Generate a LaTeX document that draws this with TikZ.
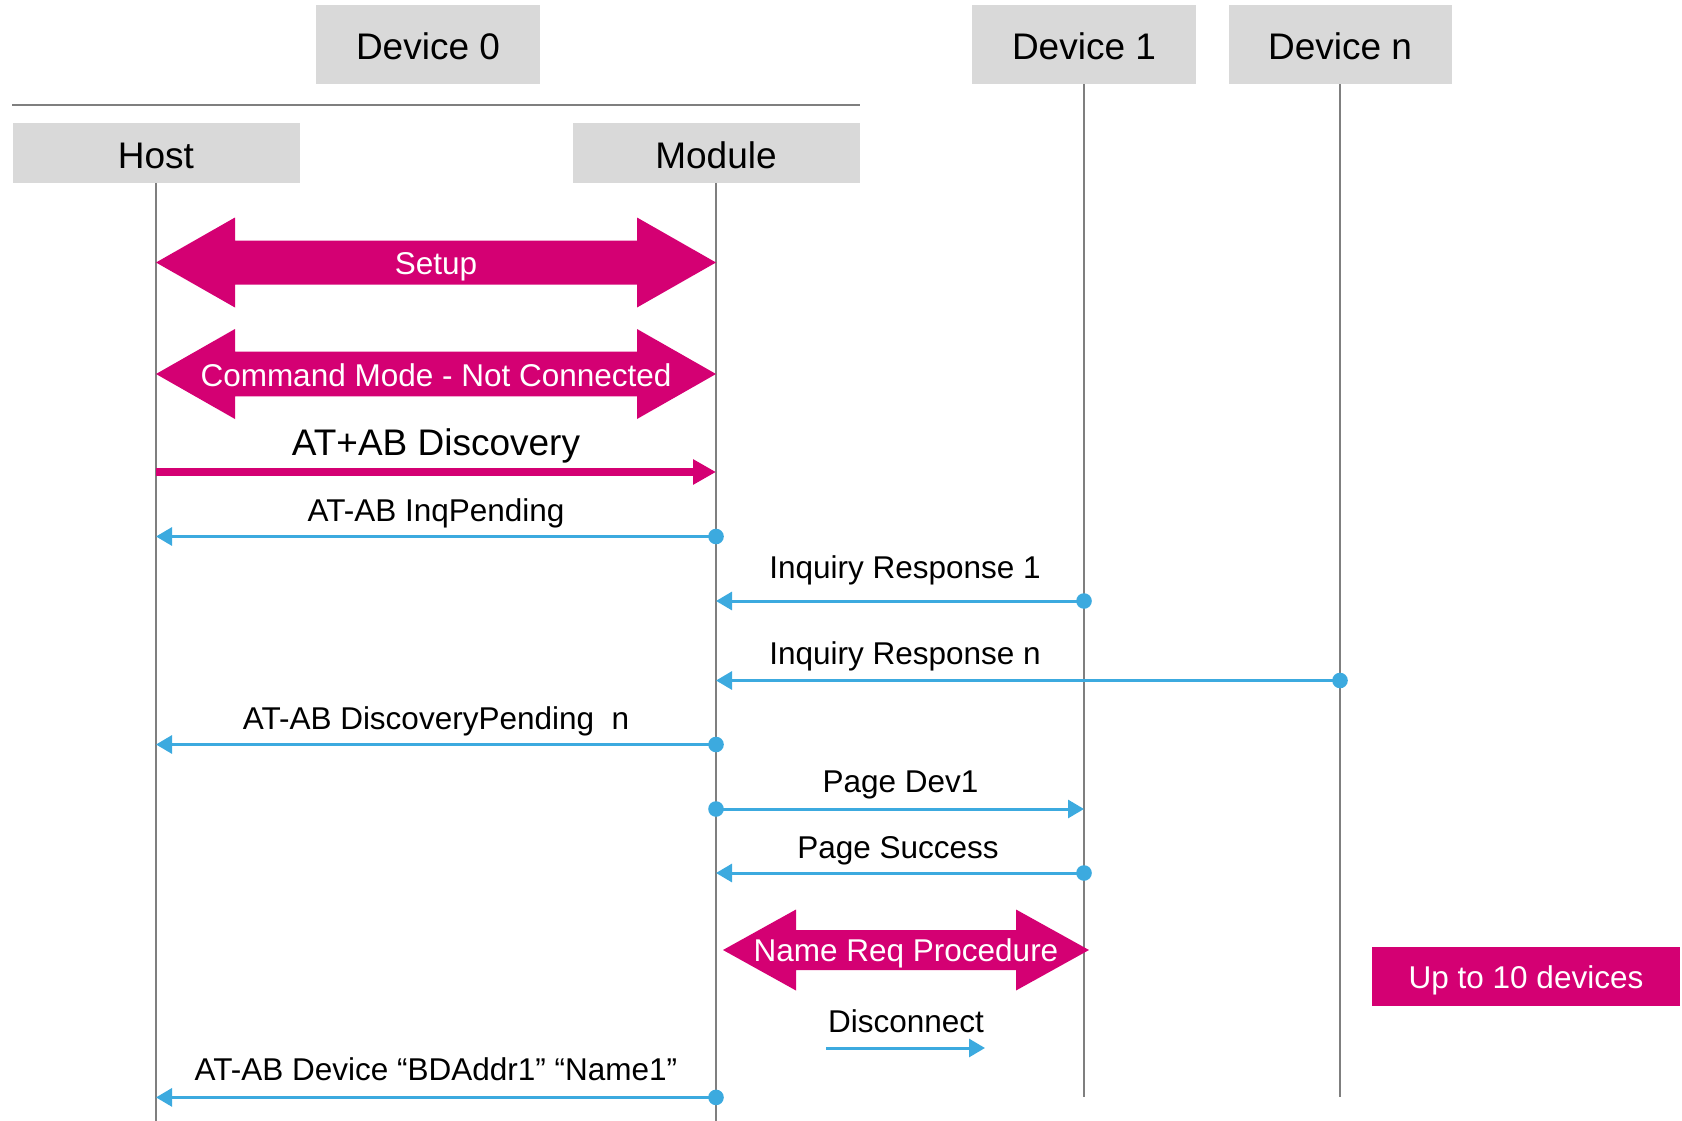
\documentclass[tikz,border=0pt]{standalone}
\usepackage{fontspec}
\setmainfont{Liberation Sans}
\usetikzlibrary{arrows.meta,calc}

\definecolor{mag}{HTML}{D40073}
\definecolor{blu}{HTML}{3CAADF}
\definecolor{hdrgray}{HTML}{D9D9D9}
\definecolor{linegray}{HTML}{7F7F7F}

% Filled two-headed block arrow between two tip coordinates:
% #1 left tip, #2 right tip, #3 head length, #4 head half-height, #5 shaft half-height
\newcommand\twoway[5]{%
  \fill[mag] (#1) -- ++(#3,-#4) -- ++(0,#4-#5) -- ($(#2)+(-#3,-#5)$)
    -- ++(0,#5-#4) -- (#2) -- ++(-#3,#4) -- ++(0,#5-#4)
    -- ($(#1)+(#3,#5)$) -- ++(0,#4-#5) -- cycle;}

\begin{document}
\begin{tikzpicture}[x=1pt,y=-1pt,
  hdr/.style={fill=hdrgray, draw=none, inner sep=0pt, text height=31pt, text depth=0pt,
              font=\fontsize{37pt}{44pt}\selectfont},
  life/.style={draw=linegray, line width=2pt},
  msg/.style={draw=blu, line width=3pt, -{Triangle[length=16pt,width=18pt]}},
  cmd/.style={draw=mag, line width=8.3pt, -{Triangle[length=23pt,width=24pt]}},
  lbl/.style={anchor=base, inner sep=0pt, font=\fontsize{31.5pt}{38pt}\selectfont},
  biglbl/.style={lbl, font=\fontsize{37pt}{44pt}\selectfont},
  inlbl/.style={lbl, text=white},
  msgdot/.style={fill=blu}]
\useasboundingbox (0,0) rectangle (1682,1121);

% participants
\node[hdr, minimum width=224pt, minimum height=79pt] (dev0) at (428,44.5) {Device 0};
\node[hdr, minimum width=224pt, minimum height=79pt] (dev1) at (1084,44.5) {Device 1};
\node[hdr, minimum width=223pt, minimum height=79pt] (devn) at (1340,44.5) {Device n};
\node[hdr, minimum width=287pt, minimum height=60pt] (host) at (156,153) {Host};
\node[hdr, minimum width=287pt, minimum height=60pt] (module) at (716,153) {Module};

% separator under Device 0
\draw[draw=linegray, line width=2.5pt] (host.west |- 0,105) -- (module.east |- 0,105);

% lifelines
\draw[life] (host.south) -- (host |- 0,1121);
\draw[life] (module.south) -- (module |- 0,1121);
\draw[life] (dev1.south) -- (dev1 |- 0,1097);
\draw[life] (devn.south) -- (devn |- 0,1097);

% Setup
\coordinate (setupL) at (host |- 0,262.5);
\coordinate (setupR) at (module |- 0,262.5);
\twoway{setupL}{setupR}{79}{45}{22}
\node[inlbl] (setupT) at ($(setupL)!0.5!(setupR)+(0,12)$) {Setup};

% Command mode
\coordinate (cmL) at (host |- 0,374);
\coordinate (cmR) at (module |- 0,374);
\twoway{cmL}{cmR}{79}{45}{22.3}
\node[inlbl] (cmT) at ($(cmL)!0.5!(cmR)+(0,12)$) {Command Mode - Not Connected};

% AT+AB Discovery
\coordinate (discH) at (host |- 0,472);
\coordinate (discM) at (module |- 0,472);
\draw[cmd] (discH) -- (discM);
\node[biglbl] (discT) at (436,455) {AT+AB Discovery};

% AT-AB InqPending
\coordinate (inqM) at (module |- 0,536.5);
\coordinate (inqH) at (host |- 0,536.5);
\draw[msg] (inqM) -- (inqH);
\fill[msgdot] (inqM) circle[radius=7.8pt];
\node[lbl] (inqT) at (436,521.5) {AT-AB InqPending};

% Inquiry Response 1
\coordinate (ir1D) at (dev1 |- 0,601);
\coordinate (ir1M) at (module |- 0,601);
\draw[msg] (ir1D) -- (ir1M);
\fill[msgdot] (ir1D) circle[radius=7.8pt];
\node[lbl] (ir1T) at (905,578.5) {Inquiry Response 1};

% Inquiry Response n
\coordinate (irnD) at (devn |- 0,680.5);
\coordinate (irnM) at (module |- 0,680.5);
\draw[msg] (irnD) -- (irnM);
\fill[msgdot] (irnD) circle[radius=7.8pt];
\node[lbl] (irnT) at (905,664) {Inquiry Response n};

% AT-AB DiscoveryPending n
\coordinate (dpM) at (module |- 0,744.5);
\coordinate (dpH) at (host |- 0,744.5);
\draw[msg] (dpM) -- (dpH);
\fill[msgdot] (dpM) circle[radius=7.8pt];
\node[lbl] (dpT) at (436,729) {AT-AB DiscoveryPending~~n};

% Page Dev1
\coordinate (pgM) at (module |- 0,809);
\coordinate (pgD) at (dev1 |- 0,809);
\draw[msg] (pgM) -- (pgD);
\fill[msgdot] (pgM) circle[radius=7.8pt];
\node[lbl] (pgT) at (900.5,792.7) {Page Dev1};

% Page Success
\coordinate (psD) at (dev1 |- 0,873);
\coordinate (psM) at (module |- 0,873);
\draw[msg] (psD) -- (psM);
\fill[msgdot] (psD) circle[radius=7.8pt];
\node[lbl] (psT) at (898,858) {Page Success};

% Name Req Procedure
\coordinate (nrL) at ($(module |- 0,950)+(7,0)$);
\coordinate (nrR) at ($(dev1 |- 0,950)+(5,0)$);
\twoway{nrL}{nrR}{73}{40.5}{20}
\node[inlbl] (nrT) at ($(nrL)!0.5!(nrR)+(0,11.7)$) {Name Req Procedure};

% Disconnect
\coordinate (dcA) at (826,1048);
\coordinate (dcB) at (985,1048);
\draw[msg] (dcA) -- (dcB);
\node[lbl] (dcT) at (906,1032) {Disconnect};

% AT-AB Device
\coordinate (devM) at (module |- 0,1097.4);
\coordinate (devH) at (host |- 0,1097.4);
\draw[msg] (devM) -- (devH);
\fill[msgdot] (devM) circle[radius=7.8pt];
\node[lbl] (devT) at (436,1080.5) {AT-AB Device “BDAddr1” “Name1”};

% note
\node[fill=mag, text=white, inner sep=0pt, minimum width=308pt, minimum height=58.5pt,
      text height=23pt, text depth=0pt, font=\fontsize{31.5pt}{38pt}\selectfont]
  (limit) at (1526,976.5) {Up to 10 devices};
\end{tikzpicture}
\end{document}
